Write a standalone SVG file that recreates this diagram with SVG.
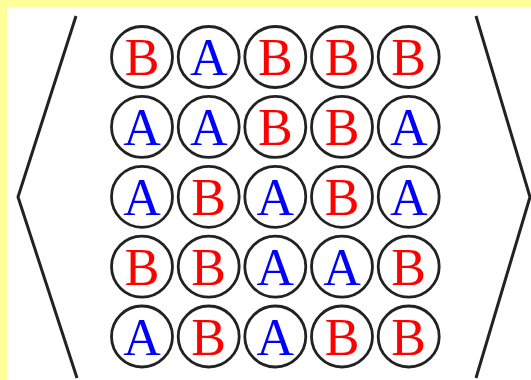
<svg xmlns="http://www.w3.org/2000/svg" width="531" height="380" viewBox="0 0 531 380">
<style>
.c{fill:none;stroke:#222;stroke-width:2.8}
.br{fill:none;stroke:#222;stroke-width:3;stroke-linejoin:miter}
.t{font-family:"Liberation Serif","DejaVu Serif",serif;font-size:52px;text-anchor:middle}
.A{fill:#0000ff}
.B{fill:#ff0000}
</style>
<rect x="0" y="0" width="531" height="380" fill="#ffff99"/>
<rect x="7" y="7" width="524" height="373" fill="#ffffff"/>
<g id="brackets">
<polyline class="br" points="76,16 18,197 77,378"/>
<polyline class="br" points="476,16 530,197 476,378"/>
</g>
<g id="r1">
<g id="n11"><circle class="c" cx="142" cy="57" r="30.5"/><text class="t B" x="142" y="75">B</text></g>
<g id="n12"><circle class="c" cx="208.7" cy="57" r="30.5"/><text class="t A" x="208.7" y="75">A</text></g>
<g id="n13"><circle class="c" cx="275.3" cy="57" r="30.5"/><text class="t B" x="275.3" y="75">B</text></g>
<g id="n14"><circle class="c" cx="342" cy="57" r="30.5"/><text class="t B" x="342" y="75">B</text></g>
<g id="n15"><circle class="c" cx="408.7" cy="57" r="30.5"/><text class="t B" x="408.7" y="75">B</text></g>
</g>
<g id="r2">
<g id="n21"><circle class="c" cx="142" cy="126.9" r="30.5"/><text class="t A" x="142" y="144.9">A</text></g>
<g id="n22"><circle class="c" cx="208.7" cy="126.9" r="30.5"/><text class="t A" x="208.7" y="144.9">A</text></g>
<g id="n23"><circle class="c" cx="275.3" cy="126.9" r="30.5"/><text class="t B" x="275.3" y="144.9">B</text></g>
<g id="n24"><circle class="c" cx="342" cy="126.9" r="30.5"/><text class="t B" x="342" y="144.9">B</text></g>
<g id="n25"><circle class="c" cx="408.7" cy="126.9" r="30.5"/><text class="t A" x="408.7" y="144.9">A</text></g>
</g>
<g id="r3">
<g id="n31"><circle class="c" cx="142" cy="196.8" r="30.5"/><text class="t A" x="142" y="214.8">A</text></g>
<g id="n32"><circle class="c" cx="208.7" cy="196.8" r="30.5"/><text class="t B" x="208.7" y="214.8">B</text></g>
<g id="n33"><circle class="c" cx="275.3" cy="196.8" r="30.5"/><text class="t A" x="275.3" y="214.8">A</text></g>
<g id="n34"><circle class="c" cx="342" cy="196.8" r="30.5"/><text class="t B" x="342" y="214.8">B</text></g>
<g id="n35"><circle class="c" cx="408.7" cy="196.8" r="30.5"/><text class="t A" x="408.7" y="214.8">A</text></g>
</g>
<g id="r4">
<g id="n41"><circle class="c" cx="142" cy="266.6" r="30.5"/><text class="t B" x="142" y="284.6">B</text></g>
<g id="n42"><circle class="c" cx="208.7" cy="266.6" r="30.5"/><text class="t B" x="208.7" y="284.6">B</text></g>
<g id="n43"><circle class="c" cx="275.3" cy="266.6" r="30.5"/><text class="t A" x="275.3" y="284.6">A</text></g>
<g id="n44"><circle class="c" cx="342" cy="266.6" r="30.5"/><text class="t A" x="342" y="284.6">A</text></g>
<g id="n45"><circle class="c" cx="408.7" cy="266.6" r="30.5"/><text class="t B" x="408.7" y="284.6">B</text></g>
</g>
<g id="r5">
<g id="n51"><circle class="c" cx="142" cy="336.5" r="30.5"/><text class="t A" x="142" y="354.5">A</text></g>
<g id="n52"><circle class="c" cx="208.7" cy="336.5" r="30.5"/><text class="t B" x="208.7" y="354.5">B</text></g>
<g id="n53"><circle class="c" cx="275.3" cy="336.5" r="30.5"/><text class="t A" x="275.3" y="354.5">A</text></g>
<g id="n54"><circle class="c" cx="342" cy="336.5" r="30.5"/><text class="t B" x="342" y="354.5">B</text></g>
<g id="n55"><circle class="c" cx="408.7" cy="336.5" r="30.5"/><text class="t B" x="408.7" y="354.5">B</text></g>
</g>
</svg>
